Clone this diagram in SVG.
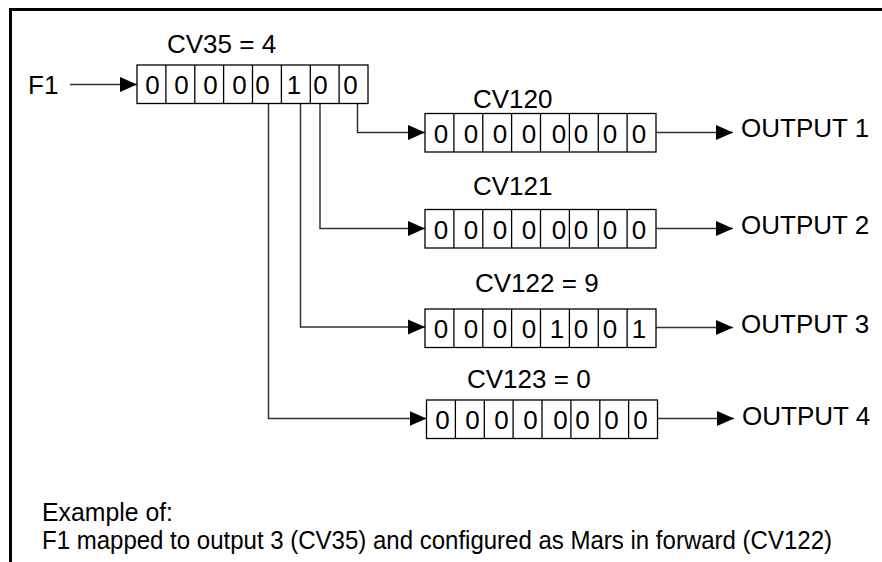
<svg xmlns="http://www.w3.org/2000/svg" width="882" height="562" viewBox="0 0 882 562">
<style>
text{font-family:"Liberation Sans",Arial,sans-serif;font-size:26px;fill:#000}
.cell{fill:#fff;stroke:#000;stroke-width:1.3}
.div{stroke:#000;stroke-width:1.3}
.con{fill:none;stroke:#333;stroke-width:1.5}
.frame{fill:none;stroke:#000;stroke-width:3}
.d{text-anchor:middle}
</style>
<defs>
<marker id="ah" markerWidth="18" markerHeight="16" refX="17" refY="8" orient="auto" markerUnits="userSpaceOnUse">
<path d="M0,0.5 L17,8 L0,15.5 Z" fill="#000"/>
</marker>
<g id="reg">
<rect class="cell" x="0" y="0" width="231" height="38.5"/>
<path class="div" d="M28.9,0V38.5M57.8,0V38.5M86.6,0V38.5M115.5,0V38.5M144.4,0V38.5M173.3,0V38.5M202.1,0V38.5"/>
</g>
</defs>
<path class="frame" d="M10.5,562V9.5H882"/>
<g id="connectors">
<path class="con" d="M70,84.5H137" marker-end="url(#ah)"/>
<path class="con" d="M357.5,104V132.5H425" marker-end="url(#ah)"/>
<path class="con" d="M320,104V228.5H425" marker-end="url(#ah)"/>
<path class="con" d="M300.5,104V327H425" marker-end="url(#ah)"/>
<path class="con" d="M268.5,104V418.5H426.5" marker-end="url(#ah)"/>
<path class="con" d="M656,132.5H733" marker-end="url(#ah)"/>
<path class="con" d="M656,228.5H733" marker-end="url(#ah)"/>
<path class="con" d="M656,327.5H733" marker-end="url(#ah)"/>
<path class="con" d="M657.5,418.5H734" marker-end="url(#ah)"/>
</g>
<g id="f1"><text x="28" y="94">F1</text></g>
<g id="cv35">
<text x="167" y="53">CV35 = 4</text>
<use href="#reg" x="137" y="65"/>
<g class="d">
<text x="152.5" y="94">0</text><text x="181.5" y="94">0</text><text x="210.5" y="94">0</text><text x="239.5" y="94">0</text><text x="262.5" y="94">0</text><text x="294" y="94">1</text><text x="320.5" y="94">0</text><text x="350.5" y="94">0</text>
</g>
</g>
<g id="cv120">
<text x="473" y="107.5">CV120</text>
<use href="#reg" x="425" y="113.5"/>
<g class="d">
<text x="441" y="142.5">0</text><text x="471" y="142.5">0</text><text x="500" y="142.5">0</text><text x="529" y="142.5">0</text><text x="559" y="142.5">0</text><text x="581" y="142.5">0</text><text x="610" y="142.5">0</text><text x="639" y="142.5">0</text>
</g>
</g>
<g id="cv121">
<text x="473" y="195">CV121</text>
<use href="#reg" x="425" y="209.5"/>
<g class="d">
<text x="441" y="238.5">0</text><text x="471" y="238.5">0</text><text x="500" y="238.5">0</text><text x="529" y="238.5">0</text><text x="559" y="238.5">0</text><text x="581" y="238.5">0</text><text x="610" y="238.5">0</text><text x="639" y="238.5">0</text>
</g>
</g>
<g id="cv122">
<text x="475" y="291.5">CV122 = 9</text>
<use href="#reg" x="425" y="309"/>
<g class="d">
<text x="441" y="338">0</text><text x="471" y="338">0</text><text x="500" y="338">0</text><text x="529" y="338">0</text><text x="557" y="338">1</text><text x="581" y="338">0</text><text x="610" y="338">0</text><text x="639" y="338">1</text>
</g>
</g>
<g id="cv123">
<text x="467" y="388">CV123 = 0</text>
<use href="#reg" x="426.5" y="400"/>
<g class="d">
<text x="442.5" y="429">0</text><text x="472.5" y="429">0</text><text x="501.5" y="429">0</text><text x="530.5" y="429">0</text><text x="560.5" y="429">0</text><text x="582.5" y="429">0</text><text x="611.5" y="429">0</text><text x="640.5" y="429">0</text>
</g>
</g>
<g id="out1"><text x="741" y="137">OUTPUT 1</text></g>
<g id="out2"><text x="741" y="234">OUTPUT 2</text></g>
<g id="out3"><text x="741" y="333">OUTPUT 3</text></g>
<g id="out4"><text x="742" y="425">OUTPUT 4</text></g>
<g id="note">
<text x="42" y="521" font-size="22" textLength="131" lengthAdjust="spacingAndGlyphs">Example of:</text>
<text x="42" y="549" font-size="20" textLength="790" lengthAdjust="spacingAndGlyphs">F1 mapped to output 3 (CV35) and configured as Mars in forward (CV122)</text>
</g>
</svg>
